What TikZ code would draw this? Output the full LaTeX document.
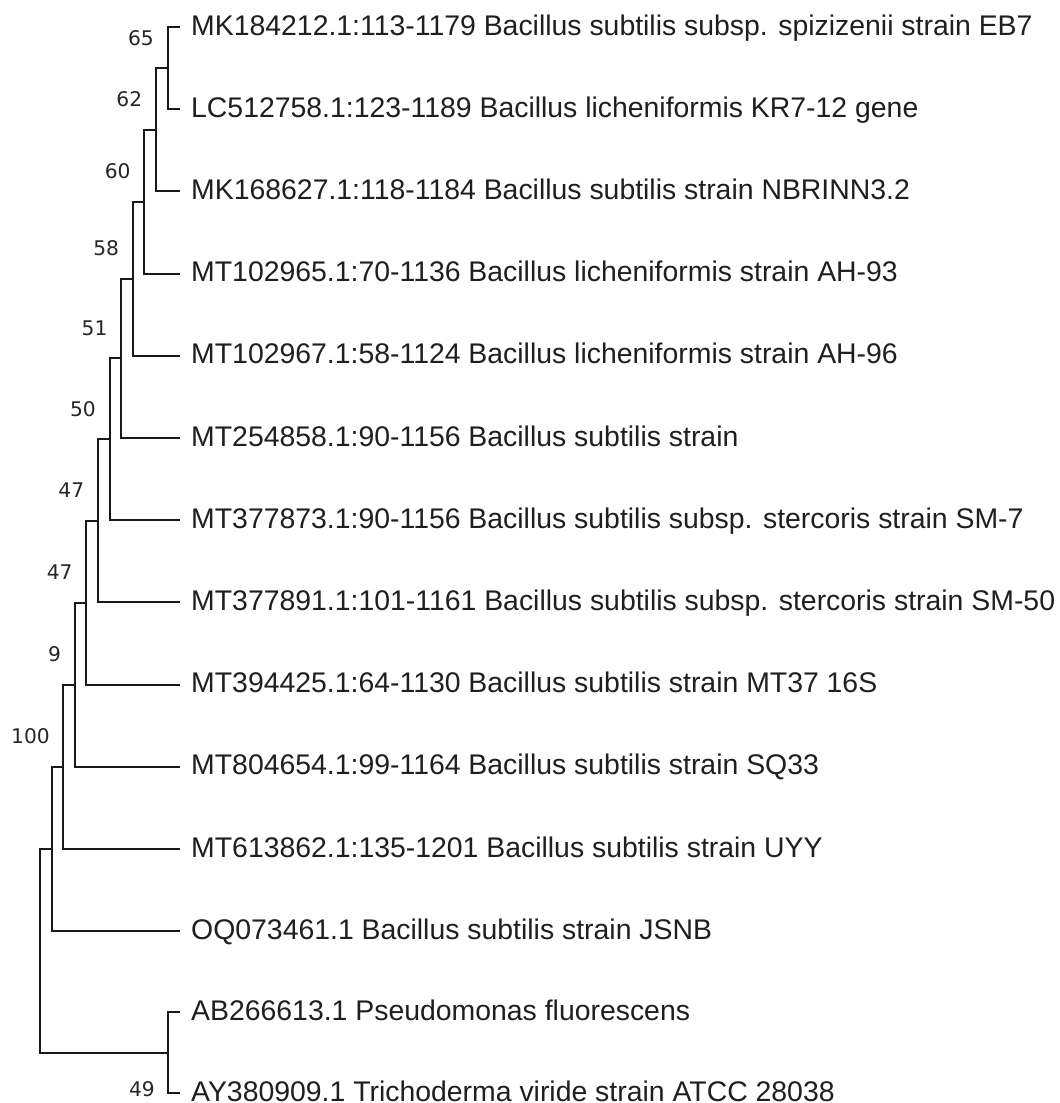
\documentclass[tikz,border=0pt]{standalone}
\usepackage{fontspec}
\setmainfont{Liberation Sans}
\newfontfamily\numfont{DejaVu Sans}
\begin{document}
\begin{tikzpicture}[x=1pt,y=-1pt,
  branch/.style={draw=black!90,line width=2pt,line cap=rect},
  leaf/.style={anchor=base west,inner sep=0pt,text=black!88,font=\fontsize{28.4}{34}\selectfont},
  boot/.style={anchor=base east,inner sep=0pt,text=black!85,font=\numfont\fontsize{20.2}{24}\selectfont}]
\useasboundingbox[fill=white] (0,0) rectangle (1060,1103);
% leaf tips
\foreach \i/\y in {1/27,2/109.2,3/191.4,4/273.6,5/355.8,6/438,7/520.2,8/602.4,9/684.6,10/766.8,11/849,12/931.2,13/1012.4,14/1093}{
  \coordinate (t\i) at (179,\y);
}
% internal nodes
\coordinate (n65) at (167.6,68.1);
\coordinate (n62) at (156,129.75);
\coordinate (n60) at (144.4,201.7);
\coordinate (n58) at (132.8,278.75);
\coordinate (n51) at (121.2,358.4);
\coordinate (n50) at (109.6,439.3);
\coordinate (n47a) at (98,520.85);
\coordinate (n47b) at (86.4,602.7);
\coordinate (n9) at (74.8,684.75);
\coordinate (n100) at (63.2,766.9);
\coordinate (nX) at (51.6,849.05);
\coordinate (n49) at (167.6,1052.7);
\coordinate (root) at (40,950.9);
% branches
\draw[branch] (n65) |- (t1); \draw[branch] (n65) |- (t2);
\draw[branch] (n62) |- (n65); \draw[branch] (n62) |- (t3);
\draw[branch] (n60) |- (n62); \draw[branch] (n60) |- (t4);
\draw[branch] (n58) |- (n60); \draw[branch] (n58) |- (t5);
\draw[branch] (n51) |- (n58); \draw[branch] (n51) |- (t6);
\draw[branch] (n50) |- (n51); \draw[branch] (n50) |- (t7);
\draw[branch] (n47a) |- (n50); \draw[branch] (n47a) |- (t8);
\draw[branch] (n47b) |- (n47a); \draw[branch] (n47b) |- (t9);
\draw[branch] (n9) |- (n47b); \draw[branch] (n9) |- (t10);
\draw[branch] (n100) |- (n9); \draw[branch] (n100) |- (t11);
\draw[branch] (nX) |- (n100); \draw[branch] (nX) |- (t12);
\draw[branch] (n49) |- (t13); \draw[branch] (n49) |- (t14);
\draw[branch] (root) |- (nX); \draw[branch] (root) |- (n49);
% leaf labels
\node[leaf] (l1) at (191,35) {MK184212.1:113-1179 Bacillus subtilis subsp. spizizenii strain EB7};
\node[leaf] (l2) at (191,117.2) {LC512758.1:123-1189 Bacillus licheniformis KR7-12 gene};
\node[leaf] (l3) at (191,199.4) {MK168627.1:118-1184 Bacillus subtilis strain NBRINN3.2};
\node[leaf] (l4) at (191,281.6) {MT102965.1:70-1136 Bacillus licheniformis strain AH-93};
\node[leaf] (l5) at (191,363.8) {MT102967.1:58-1124 Bacillus licheniformis strain AH-96};
\node[leaf] (l6) at (191,446) {MT254858.1:90-1156 Bacillus subtilis strain};
\node[leaf] (l7) at (191,528.2) {MT377873.1:90-1156 Bacillus subtilis subsp. stercoris strain SM-7};
\node[leaf] (l8) at (191,610.4) {MT377891.1:101-1161 Bacillus subtilis subsp. stercoris strain SM-50};
\node[leaf] (l9) at (191,692.6) {MT394425.1:64-1130 Bacillus subtilis strain MT37 16S};
\node[leaf] (l10) at (191,774.8) {MT804654.1:99-1164 Bacillus subtilis strain SQ33};
\node[leaf] (l11) at (191,857) {MT613862.1:135-1201 Bacillus subtilis strain UYY};
\node[leaf] (l12) at (191,939.2) {OQ073461.1 Bacillus subtilis strain JSNB};
\node[leaf] (l13) at (191,1020.4) {AB266613.1 Pseudomonas fluorescens};
\node[leaf] (l14) at (191,1101.5) {AY380909.1 Trichoderma viride strain ATCC 28038};
% bootstrap values
\node[boot] (b65) at (154,45.1) {65};
\node[boot] (b62) at (142.4,106.75) {62};
\node[boot] (b60) at (130.8,178.7) {60};
\node[boot] (b58) at (119.2,255.75) {58};
\node[boot] (b51) at (107.6,335.4) {51};
\node[boot] (b50) at (96,416.3) {50};
\node[boot] (b47a) at (84.4,497.85) {47};
\node[boot] (b47b) at (72.8,579.7) {47};
\node[boot] (b9) at (61.2,661.75) {9};
\node[boot] (b100) at (50,743.9) {100};
\node[boot] (b49) at (155,1096) {49};
\end{tikzpicture}
\end{document}
